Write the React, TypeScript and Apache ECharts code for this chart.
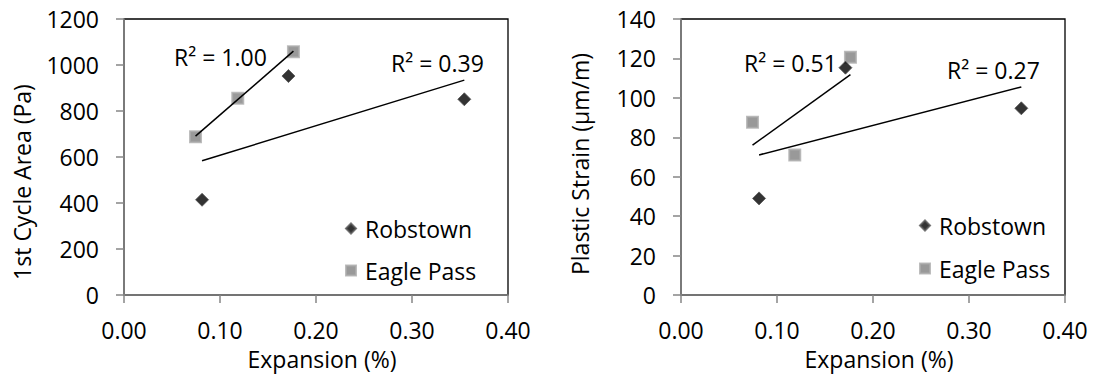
import React, { useEffect, useRef } from "react";
import * as echarts from "echarts";

const seriesNames = ["Robstown", "Eagle Pass"];
const robExpansion = [0.0813, 0.1713, 0.3545];
const eagleExpansion = [0.0745, 0.1185, 0.1765];
const areaRob = [414, 952, 851];
const areaEagle = [688, 855, 1058];
const strainRob = [49, 115.3, 94.7];
const strainEagle = [87.6, 71, 120.6];
const r2Labels = ["R² = 1.00", "R² = 0.39", "R² = 0.51", "R² = 0.27"];
const yTitles = ["1st Cycle Area (Pa)", "Plastic Strain (µm/m)"];
const xTitle = "Expansion (%)";

const FONT = "'Open Sans', sans-serif";
const FS = 23;

function pairs(xs: number[], ys: number[]) {
  return xs.map((x, i) => [x, ys[i]]);
}

function trend(xs: number[], ys: number[]) {
  const n = xs.length;
  const mx = xs.reduce((a, b) => a + b, 0) / n;
  const my = ys.reduce((a, b) => a + b, 0) / n;
  let sxy = 0;
  let sxx = 0;
  for (let i = 0; i < n; i++) {
    sxy += (xs[i] - mx) * (ys[i] - my);
    sxx += (xs[i] - mx) * (xs[i] - mx);
  }
  const b = sxy / sxx;
  const a = my - b * mx;
  const lo = Math.min(...xs);
  const hi = Math.max(...xs);
  return [
    [lo, a + b * lo],
    [hi, a + b * hi],
  ];
}

const textStyle = { fontFamily: FONT, fontSize: FS, color: "#000" };

function xAxisCfg(gridIndex: number) {
  return {
    type: "value",
    gridIndex,
    min: 0,
    max: 0.4,
    interval: 0.1,
    axisLine: { show: true, lineStyle: { color: "#868686", width: 1.5 } },
    axisTick: { show: true, length: 8, lineStyle: { color: "#868686", width: 1.5 } },
    splitLine: { show: false },
    axisLabel: {
      fontFamily: FONT,
      fontSize: FS,
      color: "#000",
      margin: 23,
      lineHeight: 24,
      formatter: (v: number) => v.toFixed(2),
    },
  };
}

function yAxisCfg(gridIndex: number, max: number, interval: number) {
  return {
    type: "value",
    gridIndex,
    min: 0,
    max,
    interval,
    axisLine: { show: true, lineStyle: { color: "#868686", width: 1.5 } },
    axisTick: { show: true, length: 8, lineStyle: { color: "#868686", width: 1.5 } },
    splitLine: { show: false },
    axisLabel: {
      fontFamily: FONT,
      fontSize: FS,
      color: "#000",
      margin: 25,
      formatter: (v: number) => String(v),
    },
  };
}

const robStyle = { color: "#000", borderColor: "#555", borderWidth: 1 };
const eagleStyle = { color: "#808080", borderColor: "#ababab", borderWidth: 2 };

function scatterPair(idx: number, rob: number[], eagle: number[]) {
  return [
    {
      type: "scatter",
      name: seriesNames[0],
      xAxisIndex: idx,
      yAxisIndex: idx,
      symbol: "diamond",
      symbolSize: 13,
      itemStyle: robStyle,
      data: pairs(robExpansion, rob),
      z: 3,
    },
    {
      type: "scatter",
      name: seriesNames[1],
      xAxisIndex: idx,
      yAxisIndex: idx,
      symbol: "rect",
      symbolSize: 11,
      itemStyle: eagleStyle,
      data: pairs(eagleExpansion, eagle),
      z: 2,
    },
    {
      type: "line",
      name: "Robstown trend " + idx,
      xAxisIndex: idx,
      yAxisIndex: idx,
      showSymbol: false,
      silent: true,
      lineStyle: { color: "#000", width: 1.5 },
      data: trend(robExpansion, rob),
      z: 4,
    },
    {
      type: "line",
      name: "Eagle Pass trend " + idx,
      xAxisIndex: idx,
      yAxisIndex: idx,
      showSymbol: false,
      silent: true,
      lineStyle: { color: "#000", width: 1.5 },
      data: trend(eagleExpansion, eagle),
      z: 4,
    },
  ];
}

function legendCfg(left: number, top: number, gap: number) {
  return {
    data: [
      { name: seriesNames[0], icon: "diamond" },
      { name: seriesNames[1], icon: "rect" },
    ],
    orient: "vertical",
    left,
    top,
    padding: 0,
    itemWidth: 10,
    itemHeight: 10,
    itemGap: gap,
    textStyle: {
      fontFamily: FONT,
      fontSize: FS,
      color: "#000",
      lineHeight: 22,
      padding: [0, 0, 0, 4],
    },
    selectedMode: false,
  };
}

function label(text: string, x: number, y: number) {
  return {
    type: "text",
    x,
    y,
    style: {
      text,
      fontFamily: FONT,
      fontSize: FS,
      fill: "#000",
      textAlign: "left",
      textVerticalAlign: "middle",
    },
    z: 10,
  };
}

function centered(text: string, x: number, y: number, rotation = 0) {
  return {
    type: "text",
    x,
    y,
    rotation,
    style: {
      text,
      fontFamily: FONT,
      fontSize: FS,
      fill: "#000",
      textAlign: "center",
      textVerticalAlign: "middle",
    },
    z: 10,
  };
}

export default function App() {
  const ref = useRef<HTMLDivElement>(null);
  useEffect(() => {
    if (!ref.current) return;
    const chart = echarts.init(ref.current, undefined, { renderer: "svg" });
    chart.setOption({
      animation: false,
      backgroundColor: "#fff",
      textStyle,
      grid: [
        { left: 124, top: 19, width: 384, height: 276, show: true, borderColor: "#000", borderWidth: 1.3, backgroundColor: "transparent" },
        { left: 681, top: 19, width: 384, height: 276, show: true, borderColor: "#000", borderWidth: 1.3, backgroundColor: "transparent" },
      ],
      xAxis: [xAxisCfg(0), xAxisCfg(1)],
      yAxis: [yAxisCfg(0, 1200, 200), yAxisCfg(1, 140, 20)],
      legend: [legendCfg(345, 217, 19), legendCfg(919, 214, 20)],
      series: [...scatterPair(0, areaRob, areaEagle), ...scatterPair(1, strainRob, strainEagle)],
      graphic: [
        label(r2Labels[0], 174, 57),
        label(r2Labels[1], 391, 63),
        label(r2Labels[2], 744, 63),
        label(r2Labels[3], 947, 70),
        centered(yTitles[0], 22, 182, Math.PI / 2),
        centered(yTitles[1], 580, 164, Math.PI / 2),
        centered(xTitle, 322, 359),
        centered(xTitle, 879, 359),
      ],
    });
    return () => chart.dispose();
  }, []);
  return (
    <div
      ref={ref}
      style={{ position: "fixed", left: 0, top: 0, width: 1101, height: 378 }}
    />
  );
}
